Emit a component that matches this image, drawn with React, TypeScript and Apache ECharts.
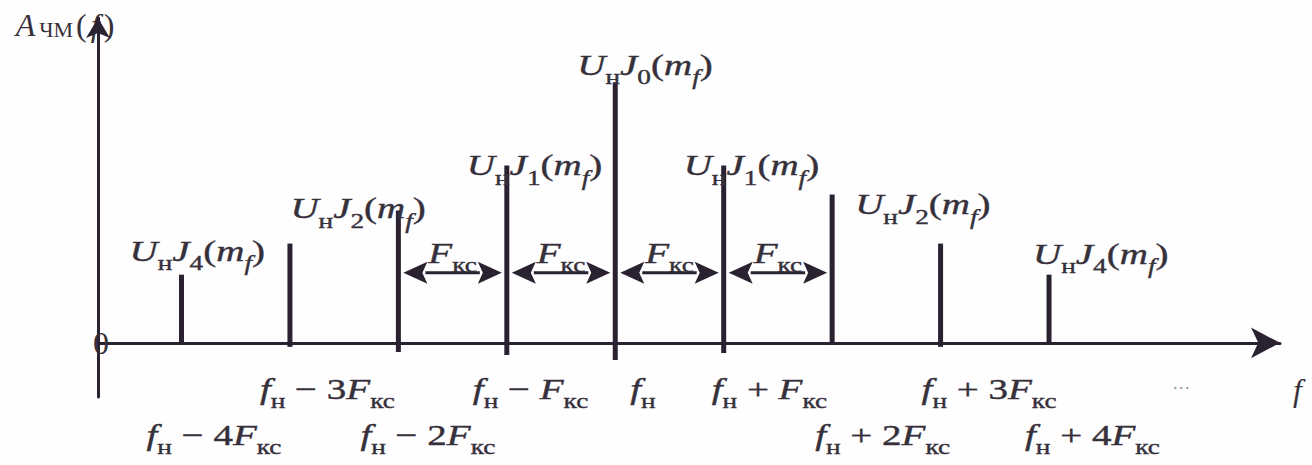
import React, { useEffect, useRef } from 'react';
import * as echarts from 'echarts';

// ---- data (amplitudes in arbitrary units above the f axis) ----
const sidebandIndex = [-4, -3, -2, -1, 0, 1, 2, 3, 4];
const amplitude = [68, 99, 132, 177, 260, 177, 148, 99, 68];
const stemFoot = [0, -4, -9, -12, -17, -10, -2, -4, 0];
const besselOrder: (number | null)[] = [4, null, 2, 1, 0, 1, 2, null, 4];
const spacingSpans = [
  [-2, -1],
  [-1, 0],
  [0, 1],
  [1, 2],
];
const spacingLevel = 70;
const yMin = -54;
const yMax = 324;
const xMin = -4.77;
const xMax = 6.13;
const ellipsisAt = 5.22;

// ---- layout / style ----
const FONT = '"Liberation Serif", "Times New Roman", Times, serif';
const INK = '#2a2230';
const TEXT = '#36303b';
const STRETCH = 1.3;
const TOP_LABEL_SHIFT = [
  [-52, -24], [0, 0], [-108, -2], [-40, 0], [-38, -17], [-40, 0], [23, 10], [0, 0], [-16, -21],
];
const BOTTOM_LABEL_DX = [-35, -30, -38, -34, 15, -12, -17, -19, -24];
const ROW_OFFSET = [46, 92];

const thick = { stroke: TEXT, lineWidth: 0.4 };
const richCustom: any = {
  i: { fontFamily: FONT, fontSize: 30, fontStyle: 'italic', fill: TEXT, lineHeight: 30, ...thick },
  r: { fontFamily: FONT, fontSize: 30, fill: TEXT, lineHeight: 30, ...thick },
  si: { fontFamily: FONT, fontSize: 21, fontStyle: 'italic', fill: TEXT, height: 6, lineHeight: 6, verticalAlign: 'bottom', ...thick },
  sr: { fontFamily: FONT, fontSize: 21, fill: TEXT, height: 6, lineHeight: 6, verticalAlign: 'bottom', ...thick },
};

function topLabel(k: number) {
  return `{i|U}{sr|н}{i|J}{sr|${k}}{r|(}{i|m}{si|f}{r|)}`;
}
function bottomLabel(n: number) {
  if (n === 0) return '{i|f}{sr|н}';
  const sign = n < 0 ? '−' : '+';
  const a = Math.abs(n);
  const coef = a === 1 ? '' : String(a);
  return `{i|f}{sr|н}{r| ${sign} ${coef}}{i|F}{sr|кс}`;
}

export default function App() {
  const ref = useRef<HTMLDivElement>(null);
  useEffect(() => {
    if (!ref.current) return;
    const chart = echarts.init(ref.current, null, { renderer: 'svg' });
    const stemData = sidebandIndex.map((n, i) => [n, amplitude[i], stemFoot[i]]);
    const spanData = spacingSpans.map(([a, b]) => [a, b, spacingLevel]);
    chart.setOption({
      animation: false,
      backgroundColor: '#fefefe',
      grid: { left: 98, right: 32, top: 18, bottom: 68, containLabel: false, outerBoundsMode: 'none' },
      xAxis: {
        type: 'value',
        min: xMin,
        max: xMax,
        name: 'f',
        nameLocation: 'end',
        nameGap: 13,
        nameTextStyle: {
          fontFamily: FONT,
          fontSize: 32,
          fontStyle: 'italic',
          color: TEXT,
          verticalAlign: 'top',
          lineHeight: 94,
        },
        axisLine: {
          onZero: true,
          symbol: ['none', 'arrow'],
          symbolSize: [23, 29],
          lineStyle: { color: INK, width: 3 },
        },
        axisTick: { show: false },
        splitLine: { show: false },
        axisLabel: {
          customValues: [ellipsisAt],
          formatter: () => '…',
          margin: -23,
          fontFamily: FONT,
          fontSize: 18,
          color: '#9a94a0',
        },
      },
      yAxis: {
        type: 'value',
        min: yMin,
        max: yMax,
        name: '{a|A}{b|ЧМ}{c|(}{d|f}{c|)}',
        nameLocation: 'end',
        nameGap: -22,
        nameTextStyle: {
          padding: [0, 66, 0, 0],
          rich: {
            a: { fontFamily: FONT, fontSize: 32, fontStyle: 'italic', color: TEXT, lineHeight: 30 },
            b: { fontFamily: FONT, fontSize: 22, color: TEXT, lineHeight: 24, verticalAlign: 'bottom', padding: [0, 3, 0, 4] },
            c: { fontFamily: FONT, fontSize: 32, color: TEXT, lineHeight: 30 },
            d: { fontFamily: FONT, fontSize: 32, fontStyle: 'italic', color: TEXT, lineHeight: 30, padding: [0, 4, 0, 4] },
          },
        },
        axisLine: {
          show: true,
          onZero: false,
          symbol: ['none', 'arrow'],
          symbolSize: [18, 20],
          lineStyle: { color: INK, width: 3 },
        },
        axisTick: { show: false },
        splitLine: { show: false },
        axisLabel: {
          customValues: [0],
          formatter: () => '0',
          margin: -11,
          fontFamily: FONT,
          fontSize: 32,
          color: TEXT,
        },
      },
      series: [
        {
          type: 'custom',
          name: 'spectrum',
          data: stemData,
          renderItem: (params: any, api: any) => {
            const idx = params.dataIndex;
            const n = api.value(0);
            const top = api.coord([n, api.value(1)]);
            const foot = api.coord([n, api.value(2)]);
            const base = api.coord([n, 0]);
            const children: any[] = [
              {
                type: 'line',
                shape: { x1: top[0], y1: top[1], x2: foot[0], y2: foot[1] },
                style: { stroke: INK, lineWidth: 5 },
              },
            ];
            const k = besselOrder[idx];
            if (k !== null) {
              const [dx, dy] = TOP_LABEL_SHIFT[idx];
              children.push({
                type: 'text',
                x: top[0] + dx,
                y: top[1] + dy,
                scaleX: STRETCH,
                style: { text: topLabel(k), rich: richCustom, textAlign: 'left', textVerticalAlign: 'middle' },
              });
            }
            const row = n !== 0 && n % 2 === 0 ? 1 : 0;
            children.push({
              type: 'text',
              x: base[0] + BOTTOM_LABEL_DX[idx],
              y: base[1] + ROW_OFFSET[row],
              scaleX: STRETCH,
              style: { text: bottomLabel(n), rich: richCustom, textAlign: 'left', textVerticalAlign: 'middle' },
            });
            return { type: 'group', children };
          },
        },
        {
          type: 'custom',
          name: 'spacing',
          data: spanData,
          renderItem: (params: any, api: any) => {
            const p1 = api.coord([api.value(0), api.value(2)]);
            const p2 = api.coord([api.value(1), api.value(2)]);
            const gap = 5;
            const head = 24;
            const hw = 11;
            const x1 = p1[0] + gap;
            const x2 = p2[0] - gap;
            const y = p1[1];
            return {
              type: 'group',
              children: [
                {
                  type: 'line',
                  shape: { x1: x1 + head - 2, y1: y, x2: x2 - head + 2, y2: y },
                  style: { stroke: INK, lineWidth: 3 },
                },
                {
                  type: 'polygon',
                  shape: { points: [[x1, y], [x1 + head, y - hw], [x1 + head - 5, y], [x1 + head, y + hw]] },
                  style: { fill: INK },
                },
                {
                  type: 'polygon',
                  shape: { points: [[x2, y], [x2 - head, y - hw], [x2 - head + 5, y], [x2 - head, y + hw]] },
                  style: { fill: INK },
                },
                {
                  type: 'text',
                  x: (x1 + x2) / 2,
                  y: y - 20,
                  scaleX: STRETCH,
                  style: { text: '{i|F}{sr|кс}', rich: richCustom, textAlign: 'center', textVerticalAlign: 'middle' },
                },
              ],
            };
          },
        },
      ],
    });
    return () => chart.dispose();
  }, []);
  return <div ref={ref} style={{ position: 'fixed', left: 0, top: 0, width: 1312, height: 465 }} />;
}
